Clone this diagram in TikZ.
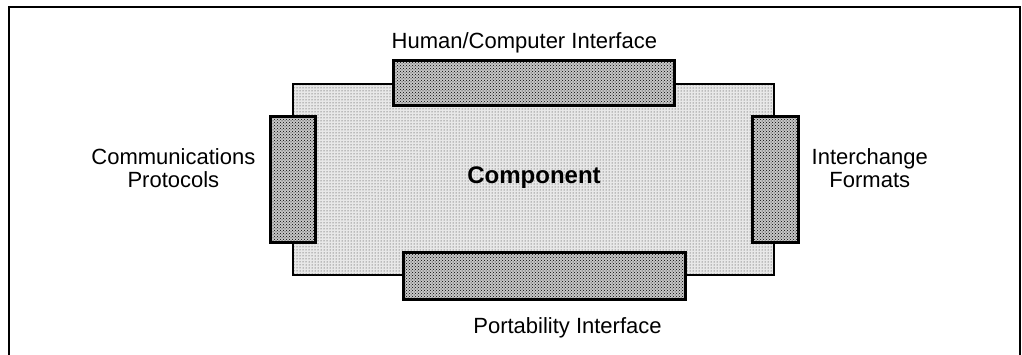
\documentclass[tikz,border=0pt]{standalone}
\usepackage{fontspec}
\setmainfont{Liberation Sans}
\usetikzlibrary{positioning,patterns}

\tikzset{
  body/.style={draw, line width=1.8pt, preaction={fill=black!9},
    pattern=dots, pattern color=black!85,
    minimum width=481pt, minimum height=191pt, inner sep=0pt},
  port/.style={draw, line width=3pt, preaction={fill=black!22},
    pattern=crosshatch dots, pattern color=black, inner sep=0pt},
  lbl/.style={font=\fontsize{22}{23}\selectfont, inner sep=0pt, align=center}
}

\begin{document}
\begin{tikzpicture}[x=1pt,y=-1pt]
  \useasboundingbox (0,0) rectangle (1022,355);
  % frame, open at the bottom
  \draw[line width=2.2pt] (9,356) -- (9,7) -- (1020,7) -- (1020,356);

  % the component
  \node[body] (comp) at (533.5,179.5) {};
  \node[font=\fontsize{24}{26}\selectfont\bfseries] (complbl) at (534,178) {Component};

  % interfaces
  \node[port, minimum width=281pt, minimum height=45pt] (hci) at (533.5,83.5) {};
  \node[port, minimum width=282pt, minimum height=46pt] (porti) at (544,276) {};
  \node[port, minimum width=45pt, minimum height=126pt] (comm) at (292.5,180) {};
  \node[port, minimum width=46pt, minimum height=126pt] (exch) at (775,180) {};

  % labels
  \node[lbl, anchor=base west] (hcilbl) at ([yshift=11pt]hci.north west) {Human/Computer Interface};
  \node[lbl, anchor=east] (commlbl) at ([xshift=-13pt,yshift=12pt]comm.west) {Communications\\Protocols};
  \node[lbl, anchor=west] (exchlbl) at ([xshift=12pt,yshift=12pt]exch.east) {Interchange\\Formats};
  \node[lbl, anchor=base] (portlbl) at (567.5,333) {Portability Interface};
\end{tikzpicture}
\end{document}
